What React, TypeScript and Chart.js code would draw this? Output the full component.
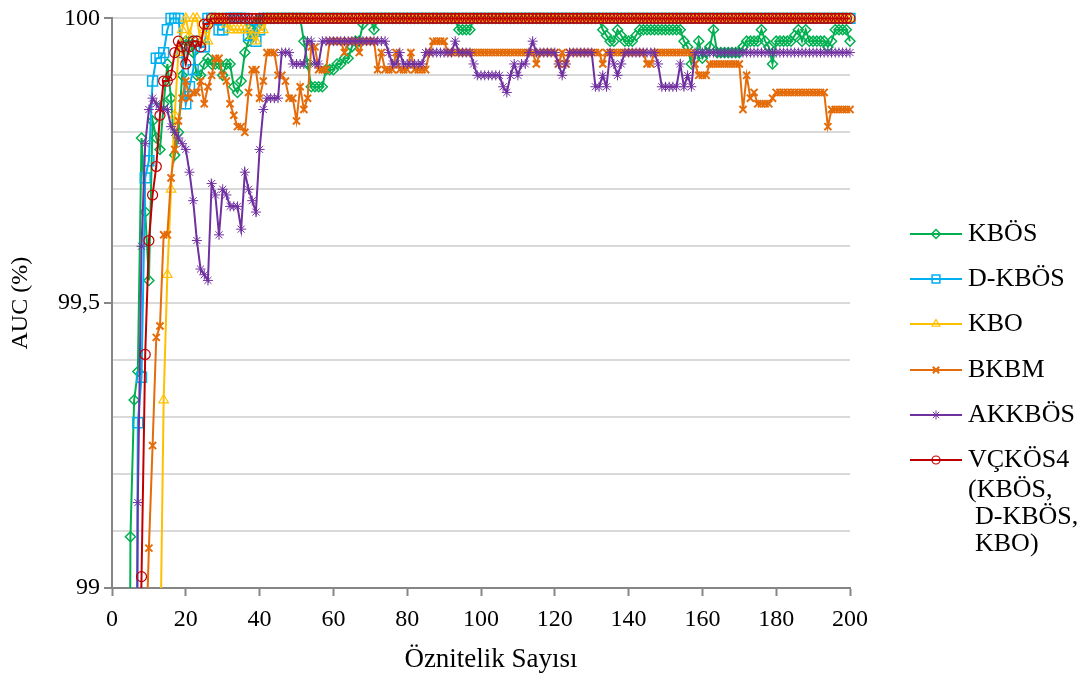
import { useEffect, useRef } from 'react';
import { Chart, registerables } from 'chart.js';
import { drawPoint } from 'chart.js/helpers';

Chart.register(...registerables);

const FONT = "'Liberation Serif', 'Times New Roman', serif";

// x categories: number of features 1..200
const featureCounts: number[] = Array.from({ length: 200 }, (_, i) => i + 1);

const xTickStep = 20;
const yMajorValues = [99, 99.5, 100];
const yTickLabels = ['99', '99,5', '100'];
const xTitle = 'Öznitelik Sayısı';
const yTitle = 'AUC (%)';

const seriesNames = ['KBÖS', 'D-KBÖS', 'KBO', 'BKBM', 'AKKBÖS', 'VÇKÖS4'];
const legendExtraLines = ['(KBÖS,', 'D-KBÖS,', 'KBO)'];

const kbos: number[] = [
  93.8, 95.6, 96.9, 97.6, 99.09, 99.33, 99.38, 99.79, 99.66, 99.54,
  99.82, 99.79, 99.77, 99.85, 99.92, 99.86, 99.76, 99.8, 99.9, 99.96,
  99.96, 99.94, 99.9, 99.9, 99.92, 99.93, 99.92, 99.92, 99.92, 99.9,
  99.92, 99.92, 99.88, 99.87, 99.89, 99.94, 99.96, 99.98, 99.99, 100,
  100, 100, 100, 100, 100, 100, 100, 100, 100, 100,
  100, 99.96, 99.92, 99.88, 99.88, 99.88, 99.88, 99.91, 99.91, 99.91,
  99.92, 99.92, 99.93, 99.93, 99.95, 99.96, 99.96, 99.99, 100, 100,
  99.98, 100, 100, 100, 100, 100, 100, 100, 100, 100,
  100, 100, 100, 100, 100, 100, 100, 100, 100, 100,
  100, 100, 100, 99.98, 99.98, 99.98, 99.98, 100, 100, 100,
  100, 100, 100, 100, 100, 100, 100, 100, 100, 100,
  100, 100, 100, 100, 100, 100, 100, 100, 100, 100,
  100, 100, 100, 100, 100, 100, 100, 100, 100, 100,
  100, 100, 99.98, 99.97, 99.96, 99.96, 99.98, 99.97, 99.96, 99.96,
  99.96, 99.97, 99.98, 99.98, 99.98, 99.98, 99.98, 99.98, 99.98, 99.98,
  99.98, 99.98, 99.98, 99.98, 99.96, 99.95, 99.92, 99.93, 99.96, 99.93,
  99.94, 99.95, 99.98, 99.94, 99.94, 99.94, 99.94, 99.94, 99.94, 99.94,
  99.95, 99.96, 99.96, 99.96, 99.96, 99.98, 99.96, 99.95, 99.92, 99.96,
  99.96, 99.96, 99.96, 99.96, 99.97, 99.98, 99.96, 99.98, 99.96, 99.96,
  99.96, 99.96, 99.96, 99.95, 99.96, 99.98, 99.98, 99.98, 99.98, 99.96,
];

const dKbos: number[] = [
  94.2, 95.3, 96.1, 96.8, 97.3, 97.9, 99.29, 99.37, 99.72, 99.75,
  99.89, 99.93, 99.93, 99.94, 99.98, 100, 100, 100, 99.94, 99.85,
  99.88, 99.91, 99.96, 99.95, 99.95, 100, 100, 100, 99.98, 99.98,
  100, 100, 100, 100, 100, 100, 99.97, 99.98, 99.96, 99.98,
  100, 100, 100, 100, 100, 100, 100, 100, 100, 100,
  100, 100, 100, 100, 100, 100, 100, 100, 100, 100,
  100, 100, 100, 100, 100, 100, 100, 100, 100, 100,
  100, 100, 100, 100, 100, 100, 100, 100, 100, 100,
  100, 100, 100, 100, 100, 100, 100, 100, 100, 100,
  100, 100, 100, 100, 100, 100, 100, 100, 100, 100,
  100, 100, 100, 100, 100, 100, 100, 100, 100, 100,
  100, 100, 100, 100, 100, 100, 100, 100, 100, 100,
  100, 100, 100, 100, 100, 100, 100, 100, 100, 100,
  100, 100, 100, 100, 100, 100, 100, 100, 100, 100,
  100, 100, 100, 100, 100, 100, 100, 100, 100, 100,
  100, 100, 100, 100, 100, 100, 100, 100, 100, 100,
  100, 100, 100, 100, 100, 100, 100, 100, 100, 100,
  100, 100, 100, 100, 100, 100, 100, 100, 100, 100,
  100, 100, 100, 100, 100, 100, 100, 100, 100, 100,
  100, 100, 100, 100, 100, 100, 100, 100, 100, 100,
];

const kbo: number[] = [
  93.0, 94.0, 94.8, 95.5, 96.1, 96.6, 97.0, 97.4, 97.7, 98.0,
  98.3, 98.6, 98.85, 99.33, 99.55, 99.7, 99.83, 99.94, 99.98, 100,
  99.97, 100, 100, 99.96, 99.98, 99.96, 100, 100, 100, 100,
  99.99, 99.98, 99.98, 99.98, 99.98, 99.98, 99.98, 99.97, 99.96, 99.98,
  99.98, 100, 100, 100, 100, 100, 100, 100, 100, 100,
  100, 100, 100, 100, 100, 100, 100, 100, 100, 100,
  100, 100, 100, 100, 100, 100, 100, 100, 100, 100,
  100, 100, 100, 100, 100, 100, 100, 100, 100, 100,
  100, 100, 100, 100, 100, 100, 100, 100, 100, 100,
  100, 100, 100, 100, 100, 100, 100, 100, 100, 100,
  100, 100, 100, 100, 100, 100, 100, 100, 100, 100,
  100, 100, 100, 100, 100, 100, 100, 100, 100, 100,
  100, 100, 100, 100, 100, 100, 100, 100, 100, 100,
  100, 100, 100, 100, 100, 100, 100, 100, 100, 100,
  100, 100, 100, 100, 100, 100, 100, 100, 100, 100,
  100, 100, 100, 100, 100, 100, 100, 100, 100, 100,
  100, 100, 100, 100, 100, 100, 100, 100, 100, 100,
  100, 100, 100, 100, 100, 100, 100, 100, 100, 100,
  100, 100, 100, 100, 100, 100, 100, 100, 100, 100,
  100, 100, 100, 100, 100, 100, 100, 100, 100, 100,
];

const bkbm: number[] = [
  93.0, 94.2, 95.1, 95.9, 96.6, 97.3, 97.9, 98.4, 98.85, 99.07,
  99.25, 99.44, 99.46, 99.62, 99.62, 99.72, 99.77, 99.82, 99.86, 99.89,
  99.86, 99.87, 99.87, 99.89, 99.85, 99.88, 99.9, 99.93, 99.93, 99.9,
  99.89, 99.85, 99.83, 99.81, 99.81, 99.8, 99.87, 99.91, 99.91, 99.86,
  99.89, 99.94, 99.94, 99.94, 99.9, 99.9, 99.89, 99.86, 99.86, 99.82,
  99.88, 99.84, 99.86, 99.95, 99.95, 99.91, 99.91, 99.91, 99.96, 99.96,
  99.96, 99.96, 99.94, 99.96, 99.96, 99.96, 99.94, 99.96, 99.96, 99.96,
  99.96, 99.91, 99.94, 99.91, 99.91, 99.91, 99.94, 99.91, 99.91, 99.91,
  99.94, 99.91, 99.91, 99.91, 99.91, 99.94, 99.96, 99.96, 99.96, 99.96,
  99.94, 99.94, 99.94, 99.94, 99.94, 99.94, 99.94, 99.94, 99.94, 99.94,
  99.94, 99.94, 99.94, 99.94, 99.94, 99.94, 99.94, 99.94, 99.94, 99.94,
  99.94, 99.94, 99.94, 99.94, 99.92, 99.94, 99.94, 99.94, 99.94, 99.94,
  99.92, 99.94, 99.92, 99.94, 99.94, 99.94, 99.94, 99.94, 99.94, 99.94,
  99.94, 99.94, 99.92, 99.94, 99.94, 99.94, 99.94, 99.94, 99.94, 99.94,
  99.94, 99.94, 99.94, 99.94, 99.92, 99.92, 99.94, 99.94, 99.94, 99.94,
  99.94, 99.94, 99.94, 99.94, 99.94, 99.94, 99.94, 99.92, 99.9, 99.9,
  99.9, 99.92, 99.92, 99.92, 99.92, 99.92, 99.92, 99.92, 99.92, 99.92,
  99.84, 99.9, 99.86, 99.87, 99.85, 99.85, 99.85, 99.85, 99.86, 99.87,
  99.87, 99.87, 99.87, 99.87, 99.87, 99.87, 99.87, 99.87, 99.87, 99.87,
  99.87, 99.87, 99.87, 99.81, 99.84, 99.84, 99.84, 99.84, 99.84, 99.84,
];

const akkbos: number[] = [
  93.5, 94.6, 95.5, 96.3, 97.0, 97.7, 99.15, 99.6, 99.78, 99.84,
  99.86, 99.85, 99.84, 99.84, 99.84, 99.81, 99.8, 99.79, 99.78, 99.77,
  99.73, 99.68, 99.61, 99.56, 99.55, 99.54, 99.71, 99.69, 99.62, 99.7,
  99.69, 99.67, 99.67, 99.67, 99.63, 99.73, 99.7, 99.68, 99.66, 99.77,
  99.84, 99.86, 99.86, 99.86, 99.86, 99.94, 99.94, 99.94, 99.92, 99.92,
  99.92, 99.92, 99.96, 99.96, 99.92, 99.92, 99.96, 99.96, 99.96, 99.96,
  99.96, 99.96, 99.96, 99.96, 99.96, 99.96, 99.96, 99.96, 99.96, 99.96,
  99.96, 99.96, 99.96, 99.96, 99.94, 99.92, 99.92, 99.94, 99.92, 99.92,
  99.92, 99.92, 99.92, 99.92, 99.94, 99.94, 99.94, 99.94, 99.94, 99.94,
  99.94, 99.94, 99.96, 99.94, 99.94, 99.94, 99.94, 99.92, 99.9, 99.9,
  99.9, 99.9, 99.9, 99.9, 99.9, 99.88, 99.87, 99.9, 99.92, 99.9,
  99.92, 99.92, 99.94, 99.96, 99.94, 99.94, 99.94, 99.94, 99.94, 99.94,
  99.92, 99.9, 99.92, 99.94, 99.94, 99.94, 99.94, 99.94, 99.94, 99.94,
  99.88, 99.88, 99.9, 99.88, 99.94, 99.92, 99.9, 99.92, 99.94, 99.94,
  99.94, 99.94, 99.94, 99.94, 99.94, 99.94, 99.94, 99.92, 99.88, 99.88,
  99.88, 99.88, 99.88, 99.92, 99.88, 99.9, 99.88, 99.94, 99.94, 99.94,
  99.94, 99.94, 99.94, 99.94, 99.94, 99.94, 99.94, 99.94, 99.94, 99.94,
  99.94, 99.94, 99.94, 99.94, 99.94, 99.94, 99.94, 99.94, 99.94, 99.94,
  99.94, 99.94, 99.94, 99.94, 99.94, 99.94, 99.94, 99.94, 99.94, 99.94,
  99.94, 99.94, 99.94, 99.94, 99.94, 99.94, 99.94, 99.94, 99.94, 99.94,
];

const vckos4: number[] = [
  93.9, 95.0, 95.9, 96.6, 97.2, 97.8, 98.6, 99.02, 99.41, 99.61,
  99.69, 99.74, 99.83, 99.89, 99.89, 99.9, 99.94, 99.96, 99.95, 99.92,
  99.95, 99.96, 99.96, 99.95, 99.99, 99.99, 100, 100, 100, 100,
  100, 100, 100, 100, 100, 100, 100, 100, 100, 100,
  100, 100, 100, 100, 100, 100, 100, 100, 100, 100,
  100, 100, 100, 100, 100, 100, 100, 100, 100, 100,
  100, 100, 100, 100, 100, 100, 100, 100, 100, 100,
  100, 100, 100, 100, 100, 100, 100, 100, 100, 100,
  100, 100, 100, 100, 100, 100, 100, 100, 100, 100,
  100, 100, 100, 100, 100, 100, 100, 100, 100, 100,
  100, 100, 100, 100, 100, 100, 100, 100, 100, 100,
  100, 100, 100, 100, 100, 100, 100, 100, 100, 100,
  100, 100, 100, 100, 100, 100, 100, 100, 100, 100,
  100, 100, 100, 100, 100, 100, 100, 100, 100, 100,
  100, 100, 100, 100, 100, 100, 100, 100, 100, 100,
  100, 100, 100, 100, 100, 100, 100, 100, 100, 100,
  100, 100, 100, 100, 100, 100, 100, 100, 100, 100,
  100, 100, 100, 100, 100, 100, 100, 100, 100, 100,
  100, 100, 100, 100, 100, 100, 100, 100, 100, 100,
  100, 100, 100, 100, 100, 100, 100, 100, 100, 100,
];

const seriesValues = [kbos, dKbos, kbo, bkbm, akkbos, vckos4];

const seriesStyles = [
  { color: '#00B050', pointStyle: 'rectRot', radius: 5, pointBorder: 1.5, legendRadius: 4.5 },
  { color: '#00B0F0', pointStyle: 'rect', radius: 7, pointBorder: 1.5, legendRadius: 5.5 },
  { color: '#FFC000', pointStyle: 'triangle', radius: 5.5, pointBorder: 1.2, legendRadius: 4.5 },
  { color: '#E46C0A', pointStyle: 'crossRot', radius: 5, pointBorder: 2, legendRadius: 4.5 },
  { color: '#7030A0', pointStyle: 'star', radius: 5, pointBorder: 1, legendRadius: 4.5 },
  { color: '#C00000', pointStyle: 'circle', radius: 5, pointBorder: 1.2, legendRadius: 4 },
];

const legendRowY = [234, 279, 324, 370, 415, 460];
const legendExtraY = [490, 517, 544];

const isMajor = (v: number) => yMajorValues.some((m) => Math.abs(m - v) < 1e-6);

const overlayPlugin = {
  id: 'customLegendAndTitle',
  afterDraw(chart: any) {
    const ctx: CanvasRenderingContext2D = chart.ctx;
    ctx.save();
    // x-axis title
    ctx.font = `27px ${FONT}`;
    ctx.fillStyle = '#000';
    ctx.textAlign = 'center';
    ctx.textBaseline = 'middle';
    ctx.fillText(xTitle, 491, 660);
    // legend
    ctx.font = `26px ${FONT}`;
    ctx.textBaseline = 'middle';
    ctx.textAlign = 'left';
    seriesNames.forEach((name, i) => {
      const s = seriesStyles[i];
      const y = legendRowY[i];
      ctx.strokeStyle = s.color;
      ctx.lineWidth = 2;
      ctx.beginPath();
      ctx.moveTo(910, y);
      ctx.lineTo(962, y);
      ctx.stroke();
      ctx.fillStyle = 'rgba(0,0,0,0)';
      ctx.strokeStyle = s.color;
      ctx.lineWidth = s.pointBorder;
      drawPoint(ctx, { pointStyle: s.pointStyle, radius: s.legendRadius, borderWidth: s.pointBorder, rotation: 0 } as any, 936, y);
      ctx.fillStyle = '#000';
      ctx.fillText(name, 968, y);
    });
    legendExtraLines.forEach((t, i) => {
      ctx.fillText(t, i === 0 ? 968 : 975, legendExtraY[i]);
    });
    ctx.restore();
  },
};

export default function App() {
  const ref = useRef<HTMLCanvasElement>(null);
  useEffect(() => {
    const canvas = ref.current;
    if (!canvas) return;
    const datasets = seriesValues.map((vals, i) => {
      const s = seriesStyles[i];
      return {
        label: seriesNames[i],
        data: vals.map((v, j) => ({ x: featureCounts[j], y: v })),
        borderColor: s.color,
        backgroundColor: s.color,
        borderWidth: 2,
        pointStyle: s.pointStyle,
        pointRadius: s.radius,
        pointBorderWidth: s.pointBorder,
        pointBorderColor: s.color,
        pointBackgroundColor: 'rgba(0,0,0,0)',
        tension: 0,
        order: 5 - i,
        clip: { left: 10, top: 12, right: 10, bottom: 0 },
      };
    });
    const chart = new Chart(canvas, {
      type: 'line',
      data: { datasets: datasets as any },
      options: {
        responsive: false,
        animation: false,
        events: [],
        layout: { padding: { left: 0, top: 17, right: 231, bottom: 0 } },
        plugins: { legend: { display: false }, tooltip: { enabled: false } },
        scales: {
          x: {
            type: 'linear',
            min: 0,
            max: 200,
            afterFit: (scale: any) => { scale.height = 89; },
            ticks: {
              stepSize: xTickStep,
              autoSkip: false,
              maxRotation: 0,
              color: '#000',
              padding: 9,
              font: { family: FONT, size: 24 },
            },
            grid: {
              drawOnChartArea: false,
              drawTicks: true,
              tickLength: 8,
              tickColor: '#868686',
              tickWidth: 2,
            },
            border: { color: '#868686', width: 2 },
            title: { display: false },
          },
          y: {
            type: 'linear',
            min: 99,
            max: 100,
            afterFit: (scale: any) => { scale.width = 112; },
            ticks: {
              stepSize: 0.1,
              autoSkip: false,
              color: '#000',
              padding: 4,
              font: { family: FONT, size: 24 },
              callback: (value: any) => {
                const idx = yMajorValues.findIndex((m) => Math.abs(m - Number(value)) < 1e-6);
                return idx >= 0 ? yTickLabels[idx] : '';
              },
            },
            grid: {
              color: '#D9D9D9',
              lineWidth: 2,
              tickLength: 8,
              tickWidth: 2,
              tickColor: (ctx: any) => (ctx.tick && isMajor(ctx.tick.value) ? '#868686' : 'rgba(0,0,0,0)'),
            },
            border: { color: '#868686', width: 2 },
            title: {
              display: true,
              text: yTitle,
              color: '#000',
              font: { family: FONT, size: 24 },
              padding: { top: 6, bottom: 0 },
            },
          },
        },
      },
      plugins: [overlayPlugin],
    });
    return () => chart.destroy();
  }, []);
  return (
    <div style={{ position: 'fixed', left: 0, top: 0, width: 1081, height: 677, background: '#fff' }}>
      <canvas ref={ref} width={1081} height={677} style={{ width: '1081px', height: '677px', display: 'block' }} />
    </div>
  );
}
